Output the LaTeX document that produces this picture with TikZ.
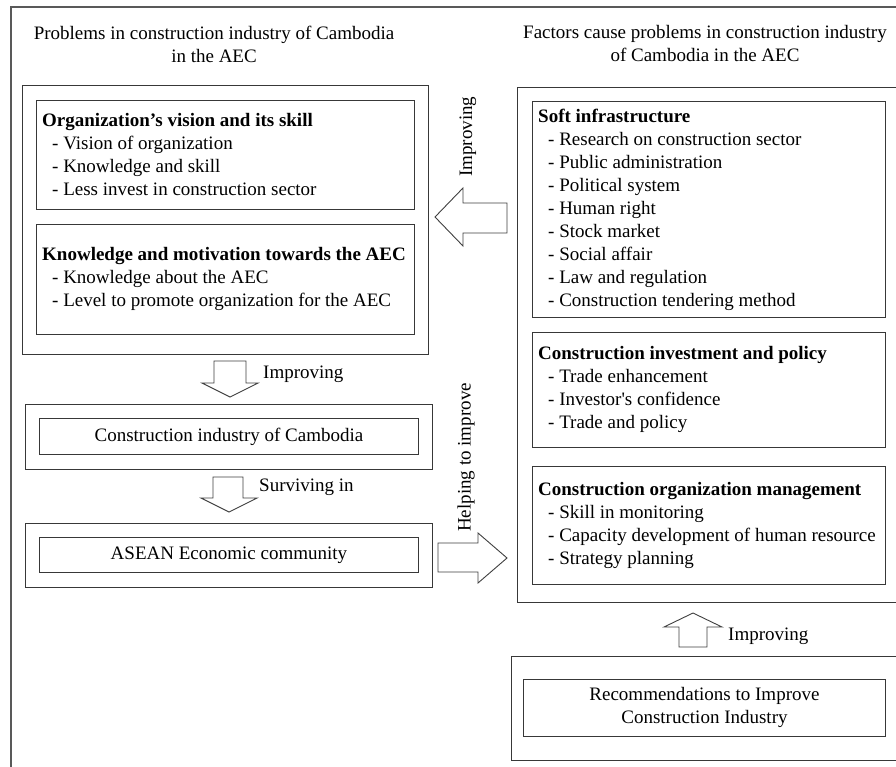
\documentclass[tikz,border=0pt]{standalone}
\usepackage{fontspec}
\setmainfont{Liberation Serif}
\usetikzlibrary{positioning}
\newcommand{\ind}{\hspace*{10pt}- }
\begin{document}
\begin{tikzpicture}[x=1pt,y=-1pt,
  boxline/.style={draw=black!78, line width=0.9pt},
  frameline/.style={draw=black!65, line width=1.3pt},
  txt/.style={font=\fontsize{19}{23}\selectfont, inner sep=0pt},
  boxtext/.style={txt, align=left, anchor=west},
  plainbox/.style={boxline, rectangle, anchor=north west, inner sep=0pt, align=center,
     font=\fontsize{19}{23}\selectfont},
  barrow/.style={draw=black!75, line width=0.9pt, fill=white, line join=miter}]
\useasboundingbox (0,0) rectangle (896,767);
\clip (0,0) rectangle (896,767);
\fill[white] (0,0) rectangle (896,767);

% outer frame
\draw[frameline] (11,7) rectangle (930,800);

% titles
\node[txt, align=center] (ltitle) at (214,44) {Problems in construction industry of Cambodia\\in the AEC};
\node[txt, align=center] (rtitle) at (705,44) {Factors cause problems in construction industry\\of Cambodia in the AEC};

% left group of problems
\node[plainbox, minimum width=406pt, minimum height=269pt] (lgroup) at (22,85) {};
\node[plainbox, minimum width=378pt, minimum height=109pt] (vision) at (36,100) {};
\node[boxtext] (visiontxt) at ([xshift=6pt]vision.west)
  {\textbf{Organization’s vision and its skill}\\
   \ind Vision of organization\\
   \ind Knowledge and skill\\
   \ind Less invest in construction sector};
\node[plainbox, minimum width=378pt, minimum height=110pt] (know) at (36,224) {};
\node[boxtext] (knowtxt) at ([xshift=6pt]know.west)
  {\textbf{Knowledge and motivation towards the AEC}\\
   \ind Knowledge about the AEC\\
   \ind Level to promote organization for the AEC};

% down arrow 1
\draw[barrow] (214,361) -- (246,361) -- (246,383) -- (258,383) -- (230,397) -- (202,383) -- (214,383) -- cycle;
\node[txt, anchor=west] (imp1) at (263,374) {Improving};

% construction industry
\node[plainbox, minimum width=407pt, minimum height=65pt] (cioutline) at (25,404) {};
\node[plainbox, minimum width=379pt, minimum height=36pt] (ci) at (39,418) {Construction industry of Cambodia};

% down arrow 2
\draw[barrow] (213,477) -- (243,477) -- (243,498) -- (257,498) -- (229,512) -- (201,498) -- (213,498) -- cycle;
\node[txt, anchor=west] (surv) at (259,487) {Surviving in};

% AEC
\node[plainbox, minimum width=407pt, minimum height=64pt] (aecoutline) at (25,523) {};
\node[plainbox, minimum width=379pt, minimum height=35pt] (aec) at (39,537) {ASEAN Economic community};

% right arrow helping to improve
\draw[barrow] (438,543) -- (478,543) -- (478,533) -- (507,558) -- (478,583) -- (478,572) -- (438,572) -- cycle;
\node[txt, rotate=90, anchor=west] (help) at (466,532) {Helping to improve};

% left arrow improving
\draw[barrow] (507,203) -- (463,203) -- (463,188) -- (435,217) -- (463,246) -- (463,233) -- (507,233) -- cycle;
\node[txt, rotate=90, anchor=west] (imp2) at (468,177) {Improving};

% right group of factors
\node[plainbox, minimum width=400pt, minimum height=515pt] (rgroup) at (517,87) {};
\node[plainbox, minimum width=353pt, minimum height=216pt] (soft) at (532,101) {};
\node[boxtext] (softtxt) at ([xshift=6pt]soft.west)
  {\textbf{Soft infrastructure}\\
   \ind Research on construction sector\\
   \ind Public administration\\
   \ind Political system\\
   \ind Human right\\
   \ind Stock market\\
   \ind Social affair\\
   \ind Law and regulation\\
   \ind Construction tendering method};
\node[plainbox, minimum width=353pt, minimum height=115pt] (invest) at (532,332) {};
\node[boxtext] (investtxt) at ([xshift=6pt]invest.west)
  {\textbf{Construction investment and policy}\\
   \ind Trade enhancement\\
   \ind Investor\textquotesingle s confidence\\
   \ind Trade and policy};
\node[plainbox, minimum width=353pt, minimum height=118pt] (mgmt) at (532,466) {};
\node[boxtext] (mgmttxt) at ([xshift=6pt]mgmt.west)
  {\textbf{Construction organization management}\\
   \ind Skill in monitoring\\
   \ind Capacity development of human resource\\
   \ind Strategy planning};

% up arrow
\draw[barrow] (679,647) -- (707,647) -- (707,627) -- (722,627) -- (693,613) -- (664,627) -- (679,627) -- cycle;
\node[txt, anchor=west] (imp3) at (728,636) {Improving};

% recommendations
\node[plainbox, minimum width=400pt, minimum height=104pt] (recoutline) at (511,656) {};
\node[plainbox, minimum width=362pt, minimum height=57pt] (rec) at (523,679)
  {Recommendations to Improve\\Construction Industry};
\end{tikzpicture}
\end{document}
